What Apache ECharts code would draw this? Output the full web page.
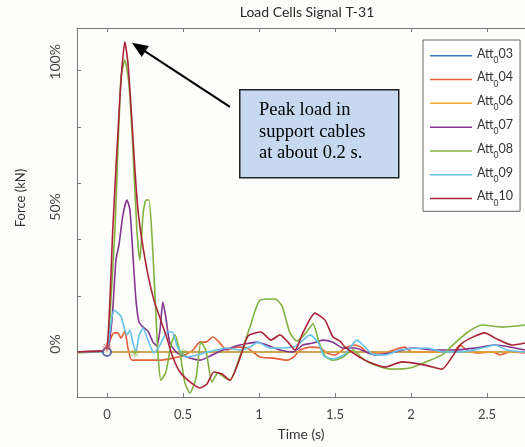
<!DOCTYPE html>
<html><head><meta charset="utf-8">
<script src="https://cdn.jsdelivr.net/npm/echarts@6/dist/echarts.min.js"></script>
<style>html,body{margin:0;padding:0;background:#fdfdfb}#c{width:525px;height:447px}</style>
</head><body><div id="c"></div>
<script>
const seriesNames = ['Att_03','Att_04','Att_06','Att_07','Att_08','Att_09','Att_10'];
const seriesColors = ['#3877c0','#e2603a','#eeaa2a','#84358f','#80b23e','#62c2ec','#ab2336'];

const att03 = [[-0.197,0],[2.75,0]];
const att04 = [[-0.197,0],[-0.046,0],[0,1.0],[0.026,4.8],[0.046,6.6],[0.072,6.6],[0.092,4.8],[0.118,7.2],[0.138,1.4],[0.164,-2.8],[0.263,-2.8],[0.349,-2.8],[0.434,-2.1],[0.513,-1.0],[0.566,0.7],[0.612,3.4],[0.651,3.4],[0.697,5.2],[0.743,3.1],[0.789,0.7],[0.855,1.7],[0.921,1.4],[1.007,-1.7],[1.092,-2.1],[1.184,-2.8],[1.230,-1.7],[1.270,0.7],[1.336,1.7],[1.401,1.4],[1.447,-0.3],[1.500,-1.0],[1.566,1.4],[1.632,2.4],[1.678,1.4],[1.717,-0.3],[1.809,-0.3],[1.961,1.7],[2.007,0],[2.158,0],[2.276,0],[2.322,2.4],[2.368,0.7],[2.434,-0.3],[2.539,0],[2.586,-1.0],[2.651,0],[2.750,-0.3]];
const att06 = [[-0.197,0],[2.75,0]];
const att07 = [[-0.197,0],[-0.046,0.3],[0,0],[0.033,11.0],[0.059,31.7],[0.079,36.9],[0.105,47.2],[0.132,52.4],[0.151,49.0],[0.171,33.4],[0.191,17.9],[0.211,10.3],[0.237,8.6],[0.270,7.2],[0.303,3.4],[0.329,2.1],[0.349,7.6],[0.368,17.2],[0.388,11.7],[0.414,3.1],[0.461,-0.3],[0.526,-1.7],[0.612,-2.8],[0.678,-1.4],[0.743,0.3],[0.809,1.4],[0.875,2.4],[0.987,3.4],[1.053,2.4],[1.138,0.7],[1.224,0],[1.289,2.4],[1.355,3.1],[1.421,4.1],[1.487,3.4],[1.553,1.4],[1.632,1.4],[1.763,-1.0],[1.895,0],[2.007,1.4],[2.158,0.7],[2.289,0.7],[2.421,1.4],[2.553,2.4],[2.684,1.4],[2.750,0.7]];
const att08 = [[-0.197,-0.3],[-0.046,0],[0,0],[0.026,17.9],[0.053,42.8],[0.092,94.5],[0.118,100.7],[0.145,92.1],[0.171,69.7],[0.197,42.1],[0.217,31.7],[0.237,47.2],[0.257,52.4],[0.276,52.4],[0.296,40.3],[0.316,19.7],[0.336,-1.0],[0.355,-9.7],[0.388,-6.9],[0.421,2.4],[0.447,5.9],[0.480,-0.3],[0.513,-10.7],[0.546,-14.1],[0.586,-9.0],[0.618,3.4],[0.651,0.7],[0.691,-10.3],[0.730,-7.2],[0.770,-8.6],[0.809,-9.7],[0.875,-1.4],[0.941,8.6],[1.007,17.9],[1.105,18.3],[1.151,15.9],[1.204,6.6],[1.250,3.8],[1.309,6.6],[1.355,9.7],[1.401,2.4],[1.441,-1.7],[1.487,-2.8],[1.553,-1.7],[1.618,0.7],[1.684,-2.4],[1.763,-4.5],[1.862,-5.9],[1.993,-5.5],[2.112,-3.1],[2.204,-1.0],[2.289,3.1],[2.375,6.9],[2.467,9.3],[2.599,8.6],[2.750,9.3]];
const att09 = [[-0.197,0],[-0.046,0],[0,0.3],[0.020,7.6],[0.046,14.5],[0.072,13.4],[0.092,12.4],[0.112,8.6],[0.132,5.9],[0.151,7.6],[0.171,3.1],[0.191,0.3],[0.211,5.5],[0.237,8.3],[0.270,4.1],[0.309,-0.3],[0.349,2.4],[0.395,6.9],[0.428,6.9],[0.467,1.4],[0.520,-1.7],[0.592,-1.0],[0.658,0],[0.724,0.7],[0.789,1.4],[0.875,0.7],[0.941,1.7],[0.993,3.4],[1.072,1.4],[1.158,1.4],[1.243,2.1],[1.336,5.9],[1.388,3.4],[1.428,-1.4],[1.493,-2.4],[1.566,-0.7],[1.645,4.1],[1.691,2.1],[1.743,-0.7],[1.829,-1.0],[1.928,0.7],[2.105,1.4],[2.211,0],[2.375,0.3],[2.467,1.4],[2.553,2.4],[2.632,0.7],[2.750,0]];
const att10 = [[-0.197,0],[-0.046,0.3],[0,0.7],[0.039,42.8],[0.086,88.6],[0.118,106.9],[0.138,99.7],[0.164,80.0],[0.184,62.8],[0.204,49.0],[0.230,38.6],[0.270,26.6],[0.309,17.9],[0.349,11.7],[0.388,5.9],[0.428,-1.0],[0.480,-6.9],[0.546,-10.3],[0.612,-12.4],[0.658,-11.0],[0.704,-6.9],[0.757,-7.6],[0.809,-9.7],[0.875,-2.1],[0.928,5.5],[1.013,6.9],[1.079,4.1],[1.138,5.9],[1.191,3.4],[1.237,0.7],[1.289,6.6],[1.368,13.4],[1.434,11.0],[1.487,5.2],[1.533,3.8],[1.566,1.7],[1.697,-2.8],[1.829,-5.2],[1.941,-3.4],[2.092,-4.5],[2.204,-5.9],[2.270,-1.7],[2.336,3.1],[2.487,6.6],[2.553,4.8],[2.664,2.4],[2.750,3.1]];
const seriesData = [att03, att04, att06, att07, att08, att09, att10];

const redStar = [[0,1.7]];
const blueCircle = [[0,0]];
const greenStars = [[0.184,-0.3],[0.5,-0.3]];

const xTickValues = [0,0.5,1,1.5,2,2.5];
const yTickValues = [0,19.4,38.8,58.2,77.6,97.0];
const yLabelValues = [0,50,100];
const xRange = [-0.197, 2.75];
const yRange = [-15.5, 111.7];

const arrowTail = [0.809, 84.5];
const arrowTip = [0.164, 106.6];
const noteText = 'Peak load in\nsupport cables\nat about 0.2 s.';

const FONT = 'Lato';
const AX = '#7a7a7a';
const STAR = 'path://M-1,-10L1,-10L1,10L-1,10Z M-10,-1L10,-1L10,1L-10,1Z M-7.7,-6.3L-6.3,-7.7L7.7,6.3L6.3,7.7Z M6.3,-7.7L7.7,-6.3L-6.3,7.7L-7.7,6.3Z';

const chart = echarts.init(document.getElementById('c'), null, {renderer:'canvas'});

const lineSeries = seriesNames.map((n,i)=>({
  name: n, type:'line', data: seriesData[i], symbol:'none', smooth:0.2,
  lineStyle:{width:1.6, color:seriesColors[i]}, itemStyle:{color:seriesColors[i]},
  animation:false
}));

chart.setOption({
  backgroundColor:'#fdfdfb',
  animation:false,
  textStyle:{fontFamily:FONT},
  title:{text:'Load Cells Signal T-31', left:307, top:5, textAlign:'center', padding:0,
    textStyle:{fontFamily:FONT, fontSize:14, fontWeight:'normal', color:'#2a2a2a'}},
  grid:{left:77, top:28, right:0, bottom:50, containLabel:false},
  legend:{
    data: seriesNames, orient:'vertical', left:423, top:40, padding:[7,7,4,7],
    icon:'rect', itemGap:6.3, itemWidth:42, itemHeight:1.5,
    borderColor:'#666', borderWidth:1, backgroundColor:'#ffffff', borderRadius:0,
    formatter: n => '{m|Att}{s|0}{m|' + n.split('_')[1] + '}',
    textStyle:{fontFamily:FONT, color:'#333', rich:{
      m:{fontFamily:FONT, fontSize:12.5, verticalAlign:'top', color:'#333'},
      s:{fontFamily:FONT, fontSize:8.5, padding:[8.5,0,0,0], verticalAlign:'top', color:'#333'}
    }}
  },
  xAxis:[{
    type:'value', min:xRange[0], max:xRange[1], position:'bottom',
    name:'Time (s)', nameLocation:'middle', nameGap:30,
    nameTextStyle:{fontFamily:FONT, fontSize:14, color:'#333'},
    axisLine:{show:true, onZero:false, lineStyle:{color:AX, width:1}},
    axisTick:{show:true, inside:true, length:4, customValues:xTickValues, lineStyle:{color:AX}},
    axisLabel:{customValues:xTickValues, fontFamily:FONT, fontSize:13, color:'#444', margin:11},
    splitLine:{show:false}
  },{
    type:'value', min:xRange[0], max:xRange[1], position:'top',
    axisLine:{show:true, onZero:false, lineStyle:{color:AX, width:1}},
    axisTick:{show:true, inside:true, length:4, customValues:xTickValues, lineStyle:{color:AX}},
    axisLabel:{show:false}, splitLine:{show:false}
  }],
  yAxis:[{
    type:'value', min:yRange[0], max:yRange[1],
    name:'Force (kN)', nameLocation:'middle', nameGap:50,
    nameTextStyle:{fontFamily:FONT, fontSize:13, color:'#333', padding:[0,0,0,29]},
    axisLine:{show:true, onZero:false, lineStyle:{color:AX, width:1}},
    axisTick:{show:true, inside:true, length:4, customValues:yTickValues, lineStyle:{color:AX}},
    axisLabel:{customValues:yLabelValues, rotate:90, margin:15, fontFamily:FONT, fontSize:14, color:'#444',
      formatter: v => v === 0 ? '{z|0%}' : v + '%',
      rich:{z:{fontFamily:FONT, fontSize:14, color:'#444', padding:[0,0,0,16]}}},
    splitLine:{show:false}
  }],
  series: lineSeries.concat([
    {type:'scatter', data:blueCircle, symbol:'emptyCircle', symbolSize:8, itemStyle:{color:'#3c4c9c', borderWidth:1.3}, z:5, silent:true},
    {type:'scatter', data:redStar, symbol:STAR, symbolSize:9, itemStyle:{color:'#e23838'}, z:5, silent:true},
    {type:'scatter', data:greenStars, symbol:STAR, symbolSize:9, itemStyle:{color:'#80b23e'}, z:5, silent:true}
  ])
});

const tip = chart.convertToPixel({gridIndex:0}, arrowTip);
const tail = chart.convertToPixel({gridIndex:0}, arrowTail);
const dx = tip[0]-tail[0], dy = tip[1]-tail[1], L = Math.hypot(dx,dy);
const ux = dx/L, uy = dy/L, hl = 16, hw = 6.5;
const bx = tip[0]-hl*ux, by = tip[1]-hl*uy;

chart.setOption({graphic:[
  {type:'line', shape:{x1:tail[0], y1:tail[1], x2:bx+ux*2, y2:by+uy*2}, style:{stroke:'#000', lineWidth:2}, z:100},
  {type:'polygon', shape:{points:[[tip[0],tip[1]],[bx-uy*hw, by+ux*hw],[bx+uy*hw, by-ux*hw]]}, style:{fill:'#000'}, z:100},
  {type:'rect', left:239, top:89, shape:{width:159, height:88}, style:{fill:'#c6d9f1', stroke:'#222', lineWidth:1.5}, z:100},
  {type:'text', left:259, top:99.5, style:{text:noteText, font:'18.5px "Liberation Serif"', fill:'#000', lineHeight:21.5}, z:101}
]});
</script></body></html>
